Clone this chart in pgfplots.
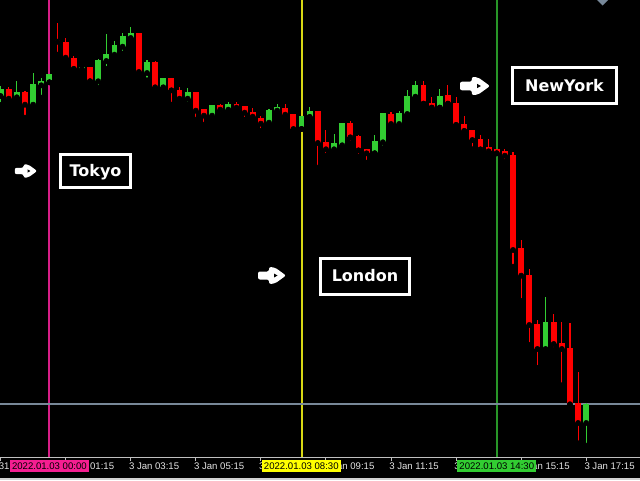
\documentclass[border=0pt]{standalone}
\usepackage{pgfplots}
\pgfplotsset{compat=1.18}
\usepackage{pgfplotstable}
\usepackage{fontspec}
\setmainfont{DejaVu Sans}
\newfontfamily\axisfont{Liberation Sans}

\definecolor{bull}{RGB}{50,205,50}
\definecolor{bear}{RGB}{255,0,0}
\definecolor{tokyoline}{RGB}{215,30,135}
\definecolor{tokyobox}{RGB}{245,30,145}
\definecolor{londonline}{RGB}{215,215,20}
\definecolor{londonbox}{RGB}{255,255,0}
\definecolor{nyline}{RGB}{40,150,40}
\definecolor{nybox}{RGB}{50,205,50}
\definecolor{levelline}{RGB}{120,136,152}
\definecolor{scalegray}{RGB}{192,192,192}
\definecolor{shiftmark}{RGB}{119,136,153}

% M15 candles, k = bar index, o h l c = open high low close
\pgfplotstableread{
k o h l c
0 384 394 375 390.7
2 382.7 399 380 387.7
4 375.3 407.3 371.3 395.7
5 394.7 401.7 382.3 399
6 397.7 406 397.7 406
10 411 413 406 413
12 398.7 421 392.3 420.3
13 419 445.7 411 426.3
14 425.3 439.3 422.3 435.3
15 433.3 446.7 426.3 443.7
16 442 452.7 441.3 446.7
18 407 420 399.7 418.3
20 392.7 401.7 388.3 401.7
23 381.3 391.7 375.3 387.7
26 364.3 375.3 359.3 375.3
28 370.3 377.7 369.3 376.3
33 357.3 371.3 355.3 370.3
34 369.3 376.3 366.3 373.3
37 351 364 351 364
38 363 373 363 369
41 330.7 346 328.7 336.7
42 334.7 357 330.7 357
46 326.7 345 326.7 339
47 337.7 367 331.7 367
49 356 369 354 367
50 366 390 365 384.3
51 383.3 399 382.3 394.7
54 372.3 391 372.3 384.3
67 131 183 126.3 157.7
72 57 76.7 34.3 75.7
}\bullcandles

\pgfplotstableread{
k o h l c
1 390.7 393.3 378 381.3
3 388 388.7 362.3 375.3
7 440 456.7 425.3 438.3
8 438.3 442 418.3 422.3
9 422.3 424 411 411
11 413 413 398.7 398.7
17 446.7 446.7 403 408
19 418.3 419.3 387.7 392.7
21 401.7 401.7 375.3 389.7
22 389.7 392.7 379 381.3
24 387.7 387.7 360.3 369.3
25 371.3 371.3 355.3 364.3
27 375.3 376.3 365.3 370.3
29 376.3 378.3 370.3 372.3
30 374.3 374.3 360.3 367.3
31 368.3 372 362.3 363.3
32 362.3 364.3 349 356.3
35 372.3 376.3 362.3 365.3
36 366.3 366.3 348 351
39 369 369 312.3 337
40 338 350 324.3 330.7
43 357 359 336.7 342.7
44 344 345 323.3 329.7
45 330.7 330.7 317.3 326.7
48 366 368.3 353.3 356
52 394.7 399 376.3 376.3
53 377.3 382.7 372.3 372.3
55 385.3 395 376.3 376.3
56 377.3 383.3 355 355
57 356 364 349 349
58 350 350 330.7 340
59 341 345 326.7 330.7
60 332.7 340.7 324.3 328.7
61 330.7 330.7 326.7 326.7
62 328.7 330.7 318.3 324.3
63 325.3 328.3 213.3 230
64 232 240 179 204.3
65 205.3 210.7 135 155
66 156 160 112 131
68 157.7 166 130 136
69 137.3 157.7 94.7 131
70 132 156.7 74.3 75.7
71 76.7 108 36.7 57
}\bearcandles

% white arrow pointing to a session label: centre x, centre y, scale
\newcommand{\sessionarrow}[3]{%
  \begin{scope}[shift={(#1,#2)}, scale=#3]
    \fill[white, rounded corners=1.5pt] (-14,-4) -- (-3,-4) -- (-3,-8.5) -- (3,-8)
      -- (14,0) -- (3,8) -- (-3,8.5) -- (-3,4) -- (-14,4) -- cycle;
    \fill[black] (2,-2) -- (5.5,0) -- (2,2) -- cycle;
  \end{scope}}

% framed session name: frame corners, then baseline point of the name
\newcommand{\sessionbox}[6]{%
  \draw[white, line width=2.6pt] (#1,#2) rectangle (#3,#4);
  \node[white, anchor=base, inner sep=0pt, font=\fontsize{12}{14}\selectfont\bfseries] at (#5,#6)}

\begin{document}
\begin{tikzpicture}
  % chart background
  \fill[black] (0,-17.25pt) rectangle (480pt,342.75pt);
  \begin{axis}[
    at={(0,0)}, anchor=south west,
    scale only axis, width=480pt, height=342.75pt,
    xmin=-0.074, xmax=78.61, ymin=23, ymax=480,
    clip=false,
    axis x line*=bottom, axis y line=none,
    x axis line style={draw=scalegray, line width=0.75pt, -},
    xtick={0,8,...,72},
    xticklabels={31 Dec 2021, 3 Jan 01:15, 3 Jan 03:15, 3 Jan 05:15, 3 Jan 07:15,
                 3 Jan 09:15, 3 Jan 11:15, 3 Jan 13:15, 3 Jan 15:15, 3 Jan 17:15},
    ytick=\empty,
    tick align=outside, major tick length=3pt,
    x tick style={draw=scalegray, line width=0.75pt},
    xticklabel style={anchor=west, inner sep=0pt, text=white!90!black,
      font=\axisfont\fontsize{7.2}{8}\selectfont, xshift=-1.5pt, yshift=-3.9pt},
  ]
    % session separators and price level
    \draw[draw=tokyoline, line width=1.5pt] (axis cs:6,23) -- (axis cs:6,480);
    \draw[draw=londonline, line width=1.5pt] (axis cs:37,23) -- (axis cs:37,480);
    \draw[draw=nyline, line width=1.5pt] (axis cs:61,23) -- (axis cs:61,480);
    \draw[levelline, line width=0.9pt] (axis cs:-0.074,76) -- (axis cs:78.61,76);

    % wicks
    \addplot[only marks, mark=none, forget plot,
      error bars/.cd, y dir=plus, y explicit, error mark=none,
      error bar style={draw=bull, line width=0.8pt}]
      table[x=k, y=l, y error plus expr=\thisrow{h}-\thisrow{l}] {\bullcandles};
    \addplot[only marks, mark=none, forget plot,
      error bars/.cd, y dir=plus, y explicit, error mark=none,
      error bar style={draw=bear, line width=0.8pt}]
      table[x=k, y=l, y error plus expr=\thisrow{h}-\thisrow{l}] {\bearcandles};
    % bodies
    \addplot[only marks, mark=none, forget plot,
      error bars/.cd, y dir=plus, y explicit, error mark=none,
      error bar style={draw=bull, line width=4.4pt}]
      table[x=k, y=o, y error plus expr=\thisrow{c}-\thisrow{o}] {\bullcandles};
    \addplot[only marks, mark=none, forget plot,
      error bars/.cd, y dir=plus, y explicit, error mark=none,
      error bar style={draw=bear, line width=4.4pt}]
      table[x=k, y=c, y error plus expr=\thisrow{o}-\thisrow{c}] {\bearcandles};
  \end{axis}

  % annotations in screen pixels, origin at the top left corner
  \begin{scope}[x=0.75pt, y=-0.75pt, shift={(0pt,342.75pt)}]
    \fill[shiftmark] (597,0) -- (608,0) -- (602.5,5.5) -- cycle;
    \fill[white!82!black] (0,478) rectangle (640,480);

    \begin{scope}[every node/.style={text=black, inner sep=0pt,
        minimum width=59.25pt, minimum height=9pt,
        font=\axisfont\fontsize{7.2}{8}\selectfont}]
      \node[fill=tokyobox] at (49.4,466) {2022.01.03 00:00};
      \node[fill=londonbox] at (301.3,466) {2022.01.03 08:30};
      \node[fill=nybox] at (496.8,466) {2022.01.03 14:30};
    \end{scope}

    \sessionarrow{26}{171}{0.8}
    \sessionarrow{272}{275.5}{1}
    \sessionarrow{475}{86}{1.07}

    \sessionbox{60.75}{154.75}{130.25}{187.25}{95.5}{176} {Tokyo};
    \sessionbox{320.75}{258.75}{409.25}{294.25}{365}{281.5} {London};
    \sessionbox{512.75}{67.75}{616.25}{103.25}{564.5}{91} {NewYork};
  \end{scope}

  \pgfresetboundingbox
  \useasboundingbox (0,-17.25pt) rectangle (480pt,342.75pt);
\end{tikzpicture}
\end{document}
